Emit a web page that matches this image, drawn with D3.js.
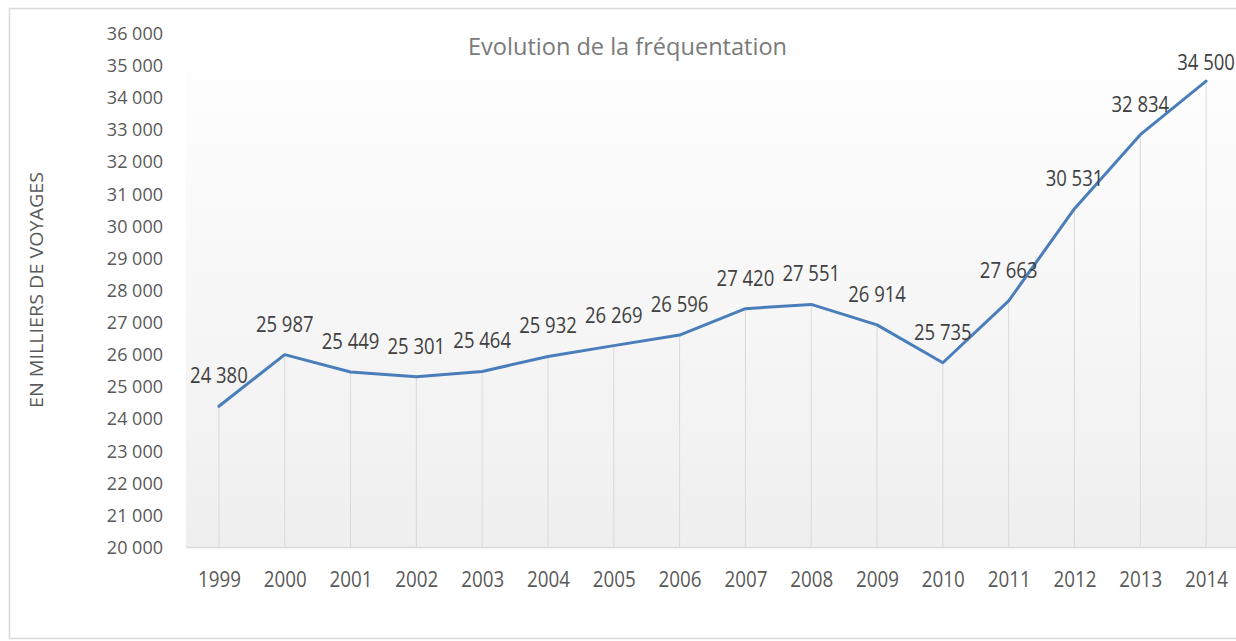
<!DOCTYPE html>
<html>
<head>
<meta charset="utf-8">
<script src="https://cdn.jsdelivr.net/npm/d3@7"></script>
<style>
  html, body { margin: 0; padding: 0; background: #ffffff; }
  svg { display: block; }
  text { font-family: "Open Sans", "Noto Sans", sans-serif; }
</style>
</head>
<body>
<svg id="chart" width="1236" height="641"></svg>
<script>
// ---- data ----
const years = ["1999","2000","2001","2002","2003","2004","2005","2006","2007","2008","2009","2010","2011","2012","2013","2014"];
const voyages = [24380, 25987, 25449, 25301, 25464, 25932, 26269, 26596, 27420, 27551, 26914, 25735, 27663, 30531, 32834, 34500];
const yTicks = [20000,21000,22000,23000,24000,25000,26000,27000,28000,29000,30000,31000,32000,33000,34000,35000,36000];
const chartTitle = "Evolution  de la fréquentation";
const yAxisTitle = "EN MILLIERS DE VOYAGES";

// ---- layout ----
const W = 1236, H = 641;
const plot = { left: 186, right: 1239, top: 33, bottom: 547 };

const svg = d3.select("#chart");
const fmt = v => d3.format(",")(v).replace(/,/g, " ");

const x = d3.scalePoint().domain(years).range([plot.left, plot.right]).padding(0.5);
const y = d3.scaleLinear().domain([20000, 36000]).range([plot.bottom, plot.top]);

// gradient for plot background
const defs = svg.append("defs");
const grad = defs.append("linearGradient").attr("id", "bg").attr("x1", 0).attr("y1", 0).attr("x2", 0).attr("y2", 1);
grad.append("stop").attr("offset", "0%").attr("stop-color", "#ffffff");
grad.append("stop").attr("offset", "100%").attr("stop-color", "#efefef");

// outer chart border
svg.append("rect")
  .attr("x", 9.5).attr("y", 8.5).attr("width", 1240).attr("height", 630)
  .attr("fill", "#ffffff").attr("stroke", "#d9d9d9").attr("stroke-width", 1.5);

// plot area
svg.append("rect")
  .attr("x", plot.left).attr("y", plot.top)
  .attr("width", plot.right - plot.left).attr("height", plot.bottom - plot.top)
  .attr("fill", "url(#bg)");

// drop lines
const data = years.map((yr, i) => ({ yr, v: voyages[i] }));
svg.append("g").selectAll("line").data(data).join("line")
  .attr("x1", d => x(d.yr)).attr("x2", d => x(d.yr))
  .attr("y1", d => y(d.v)).attr("y2", plot.bottom)
  .attr("stroke", "#d9d9d9").attr("stroke-width", 1);

// x axis
const xAxis = svg.append("g").attr("transform", `translate(0,${plot.bottom})`)
  .call(d3.axisBottom(x).tickSize(0).tickPadding(0));
xAxis.select(".domain").attr("d", `M${plot.left},0.5H${plot.right}`).attr("stroke", "#d9d9d9").attr("stroke-width", 1.5);
xAxis.selectAll(".tick text")
  .attr("y", 0).attr("dy", null)
  .attr("transform", "translate(0,40) scale(1,1.17)")
  .attr("font-size", 18.8).attr("fill", "#595959")
  .attr("font-family", "'Open Sans', sans-serif");

// y axis
const yAxis = svg.append("g").attr("transform", `translate(${plot.left},0)`)
  .call(d3.axisLeft(y).tickValues(yTicks).tickFormat(fmt).tickSize(0).tickPadding(23));
yAxis.select(".domain").remove();
yAxis.selectAll(".tick text")
  .attr("dy", "0.36em")
  .attr("font-size", 18).attr("fill", "#595959")
  .attr("font-family", "'Open Sans', sans-serif");

// line
const line = d3.line().x(d => x(d.yr)).y(d => y(d.v));
svg.append("path").datum(data)
  .attr("d", line)
  .attr("fill", "none")
  .attr("stroke", "#4a7ebb")
  .attr("stroke-width", 3)
  .attr("stroke-linejoin", "round")
  .attr("stroke-linecap", "round");

// data labels
svg.append("g").selectAll("text").data(data).join("text")
  .attr("transform", d => `translate(${x(d.yr)},${Math.max(y(d.v) - 23, 70)}) scale(1,1.14)`)
  .attr("text-anchor", "middle")
  .attr("font-size", 18.5)
  .attr("fill", "#404040")
  .text(d => fmt(d.v));

// title
svg.append("text")
  .attr("x", 468).attr("y", 55)
  .attr("font-size", 24)
  .attr("fill", "#7a7a7a")
  .attr("textLength", 319).attr("lengthAdjust", "spacingAndGlyphs")
  .text(chartTitle);

// y axis title
svg.append("text")
  .attr("transform", "translate(43,290) rotate(-90)")
  .attr("text-anchor", "middle")
  .attr("font-size", 19)
  .attr("fill", "#595959")
  .attr("textLength", 236).attr("lengthAdjust", "spacingAndGlyphs")
  .text(yAxisTitle);
</script>
</body>
</html>
